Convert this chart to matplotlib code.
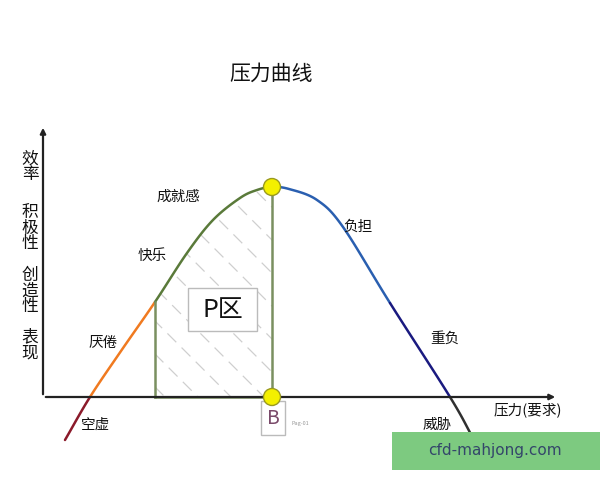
import numpy as np
import matplotlib.pyplot as plt
from matplotlib.patches import Polygon, Rectangle, Circle

plt.rcParams['font.family'] = ['Noto Sans CJK SC', 'DejaVu Sans']

# curve (x: pressure, y: performance), 1 unit = 10 px
curve_x = [2.2, 4.7, 7.8, 11.2, 14.4, 17.0, 19.7, 21.4, 22.9, 24.6, 27.4, 30.0, 34.7, 40.7, 43.0]
curve_y = [-4.3, 0.0, 4.6, 9.5, 14.4, 17.7, 19.9, 20.7, 21.0, 20.8, 19.7, 17.0, 9.4, 0.0, -4.1]
# colour of each stretch of the curve: (start x, end x, colour)
segments = [(2.2, 4.7, '#8b1a2a'), (4.7, 11.2, '#f07a20'), (11.2, 22.9, '#5a7a3a'),
            (22.9, 34.7, '#2a5fb0'), (34.7, 40.7, '#1a1a80'), (40.7, 43.0, '#303030')]

p_left, p_peak = 11.2, 22.9

curve_labels = ['成就感', '快乐', '厌倦', '空虚', '负担', '重负', '威胁']
label_x = [13.5, 10.9, 6.0, 5.2, 31.5, 40.2, 39.4]
label_y = [20.0, 14.1, 5.4, -2.8, 17.0, 5.8, -2.8]
ylabel_groups = ['效率', '积极性', '创造性', '表现']
ylabel_y = [23.0, 16.9, 10.6, 5.2]


def smooth_curve(xp, yp, n=20):
    """Catmull-Rom spline through the read-off points"""
    pts = np.column_stack([xp, yp])
    pts = np.vstack([2 * pts[0] - pts[1], pts, 2 * pts[-1] - pts[-2]])
    out = []
    t = np.linspace(0, 1, n, endpoint=False)[:, None]
    for i in range(1, len(pts) - 2):
        p0, p1, p2, p3 = pts[i - 1], pts[i], pts[i + 1], pts[i + 2]
        out.append(0.5 * ((2 * p1) + (-p0 + p2) * t + (2 * p0 - 5 * p1 + 4 * p2 - p3) * t ** 2
                          + (-p0 + 3 * p1 - 3 * p2 + p3) * t ** 3))
    out.append(pts[-2][None, :])
    out = np.vstack(out)
    return out[:, 0], out[:, 1]


cx, cy = smooth_curve(curve_x, curve_y)


def curve_at(x):
    return np.interp(x, cx, cy)


fig = plt.figure(figsize=(6, 4.8), dpi=100)
ax = fig.add_axes([0, 0, 1, 1])
ax.set_xlim(-4.3, 55.7)
ax.set_ylim(-8.3, 39.7)
ax.axis('off')

# axes arrows
ax.annotate('', xy=(0, 27.2), xytext=(0, 0),
            arrowprops=dict(arrowstyle='-|>', color='#222222', lw=1.6, mutation_scale=8))
ax.annotate('', xy=(51.5, 0), xytext=(0, 0),
            arrowprops=dict(arrowstyle='-|>', color='#222222', lw=1.6, mutation_scale=8))

# P zone: hatched area under the green part
m = (cx >= p_left) & (cx <= p_peak)
poly_pts = [(p_left, 0), (p_left, curve_at(p_left))] + list(zip(cx[m], cy[m])) + \
           [(p_peak, curve_at(p_peak)), (p_peak, 0)]
zone = Polygon(poly_pts, closed=True, facecolor='none', edgecolor='none')
ax.add_patch(zone)
for c in np.arange(p_left + 2.5, p_peak + 22, 3.3):
    hx = np.array([c - 22, c])
    ln, = ax.plot(hx, c - hx - 1.5, color='#cfcfcf', lw=0.9, ls=(0, (10, 6)))
    ln.set_clip_path(zone)

# curve in its coloured stretches
for x0, x1, col in segments:
    m = (cx >= x0 - 0.05) & (cx <= x1 + 0.05)
    ax.plot(cx[m], cy[m], color=col, lw=1.8, solid_capstyle='round')

# green frame of the P zone
g = '#7a9060'
ax.plot([p_left, p_left], [0, curve_at(p_left)], color=g, lw=1.8)
ax.plot([p_peak, p_peak], [0, curve_at(p_peak)], color=g, lw=1.8)
ax.plot([p_left, p_peak], [0, 0], color=g, lw=1.8)

# yellow markers
for yy in (0, curve_at(p_peak)):
    ax.add_patch(Circle((p_peak, yy), 0.85, facecolor='#f4f000', edgecolor='#9a9a20', lw=1, zorder=5))

# P区 box
ax.add_patch(Rectangle((14.5, 6.6), 6.9, 4.3, facecolor='white', edgecolor='#bbbbbb', lw=1, zorder=4))
ax.text(17.95, 8.75, 'P区', fontsize=18, ha='center', va='center', color='#111111', zorder=6)

# B box
ax.add_patch(Rectangle((21.8, -3.8), 2.4, 3.4, facecolor='white', edgecolor='#bbbbbb', lw=1, zorder=4))
ax.text(23.0, -2.1, 'B', fontsize=14, ha='center', va='center', color='#7a4a6a', zorder=6)
ax.text(24.9, -2.8, 'Pag-01', fontsize=4, color='#999999')

# texts
ax.text(22.8, 32.3, '压力曲线', fontsize=15, ha='center', va='center', color='#111111')
for t, x, y in zip(curve_labels, label_x, label_y):
    ax.text(x, y, t, fontsize=10.5, ha='center', va='center', color='#111111')
ax.text(48.5, -1.3, '压力(要求)', fontsize=10.5, ha='center', va='center', color='#111111')
for t, y in zip(ylabel_groups, ylabel_y):
    ax.text(-1.3, y, '\n'.join(t), fontsize=12, ha='center', va='center',
            linespacing=0.92, color='#111111')

# watermark band
ax.add_patch(Rectangle((34.9, -7.3), 20.8, 3.8, facecolor='#7dca80', edgecolor='none', zorder=7))
ax.text(45.2, -5.4, 'cfd-mahjong.com', fontsize=11, ha='center', va='center',
        color='#34466a', family='DejaVu Sans', zorder=8)

fig.savefig('out.png', dpi=100)
